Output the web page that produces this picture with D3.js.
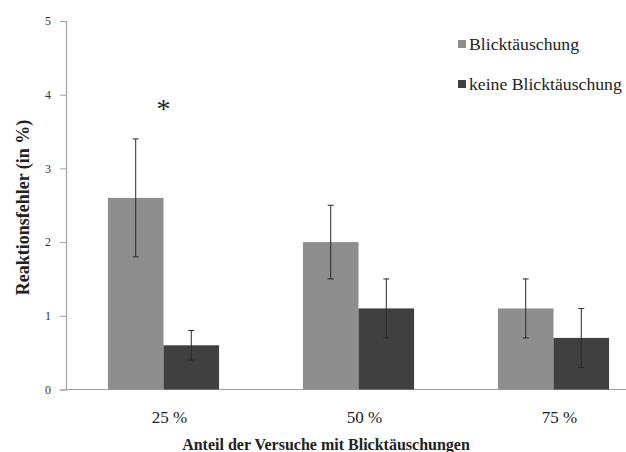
<!DOCTYPE html>
<html>
<head>
<meta charset="utf-8">
<script src="https://cdn.jsdelivr.net/npm/d3@7"></script>
</head>
<body style="margin:0;background:#fff">
<svg id="chart" width="626" height="452" style="display:block"></svg>
<script>
// Reaktionsfehler je Anteil der Blicktäuschungs-Versuche
const categories = ["25 %", "50 %", "75 %"];
const seriesNames = ["Blicktäuschung", "keine Blicktäuschung"];
const illusionValues = [2.6, 2.0, 1.1];
const illusionLow = [1.8, 1.5, 0.7];
const illusionHigh = [3.4, 2.5, 1.5];
const noIllusionValues = [0.6, 1.1, 0.7];
const noIllusionLow = [0.4, 0.7, 0.3];
const noIllusionHigh = [0.8, 1.5, 1.1];
const yTicks = [0, 1, 2, 3, 4, 5];
const significant = [true, false, false];

const colors = ["#8e8e8e", "#404040"];
const serif = '"Liberation Serif"';

const rows = categories.map((c, i) => ({
  cat: c,
  bars: [
    { s: 0, v: illusionValues[i], lo: illusionLow[i], hi: illusionHigh[i] },
    { s: 1, v: noIllusionValues[i], lo: noIllusionLow[i], hi: noIllusionHigh[i] }
  ]
}));

const svg = d3.select("#chart");
const x0 = 66, y0 = 389.5, yTop = 21;

const x = d3.scaleBand().domain(categories).range([x0, 651])
  .paddingInner(0.43).paddingOuter(0.215);
const xs = d3.scaleBand().domain([0, 1]).range([0, x.bandwidth()]);
const y = d3.scaleLinear().domain([0, 5]).range([y0, yTop]);

// x axis baseline
svg.append("line")
  .attr("x1", x0).attr("x2", 626)
  .attr("y1", y0).attr("y2", y0)
  .attr("stroke", "#a0a0a0").attr("stroke-width", 1.2);

// y axis
const yAxis = svg.append("g")
  .attr("transform", `translate(${x0},0)`)
  .call(d3.axisLeft(y).tickValues(yTicks).tickSize(6).tickPadding(9).tickFormat(d3.format("d")));
yAxis.select(".domain").attr("stroke", "#a0a0a0").attr("stroke-width", 1.2);
yAxis.selectAll(".tick line").attr("stroke", "#a0a0a0");
yAxis.selectAll(".tick text")
  .style("font-family", serif)
  .style("font-size", "12px").attr("fill", "#333");

// bars
const groups = svg.selectAll("g.grp").data(rows).enter().append("g")
  .attr("class", "grp")
  .attr("transform", d => `translate(${x(d.cat)},0)`);

groups.selectAll("rect").data(d => d.bars).enter().append("rect")
  .attr("x", d => xs(d.s))
  .attr("width", xs.bandwidth())
  .attr("y", d => y(d.v))
  .attr("height", d => y(0) - y(d.v))
  .attr("fill", d => colors[d.s]);

// error bars
const err = groups.selectAll("g.err").data(d => d.bars).enter().append("g")
  .attr("class", "err")
  .attr("stroke", "#2a2a2a").attr("stroke-width", 1);
err.append("line")
  .attr("x1", d => xs(d.s) + xs.bandwidth() / 2)
  .attr("x2", d => xs(d.s) + xs.bandwidth() / 2)
  .attr("y1", d => y(d.lo)).attr("y2", d => y(d.hi));
["lo", "hi"].forEach(k => {
  err.append("line")
    .attr("x1", d => xs(d.s) + xs.bandwidth() / 2 - 3)
    .attr("x2", d => xs(d.s) + xs.bandwidth() / 2 + 3)
    .attr("y1", d => y(d[k])).attr("y2", d => y(d[k]));
});

// significance marker
svg.selectAll("text.sig").data(rows.filter((d, i) => significant[i])).enter()
  .append("text").attr("class", "sig")
  .attr("x", d => x(d.cat) + x.bandwidth() / 2)
  .attr("y", 118)
  .attr("text-anchor", "middle")
  .style("font-family", serif).style("font-size", "28px").attr("fill", "#222")
  .text("*");

// category labels
svg.selectAll("text.cat").data(categories).enter().append("text")
  .attr("class", "cat")
  .attr("x", d => x(d) + x.bandwidth() / 2 + 6)
  .attr("y", 423)
  .attr("text-anchor", "middle")
  .style("font-family", serif).style("font-size", "17px").attr("fill", "#222")
  .text(d => d);

// axis titles
svg.append("text")
  .attr("x", 326).attr("y", 450)
  .attr("text-anchor", "middle")
  .style("font-family", serif).style("font-size", "16px").style("font-weight", "bold").attr("fill", "#222")
  .text("Anteil der Versuche mit Blicktäuschungen");

svg.append("text")
  .attr("transform", "translate(29,207.5) rotate(-90)")
  .attr("text-anchor", "middle")
  .style("font-family", serif).style("font-size", "18px").style("font-weight", "bold").attr("fill", "#222")
  .text("Reaktionsfehler (in %)");

// legend
const legend = svg.selectAll("g.leg").data(seriesNames).enter().append("g")
  .attr("class", "leg")
  .attr("transform", (d, i) => `translate(458,${44 + i * 40})`);
legend.append("rect")
  .attr("x", 0).attr("y", -4).attr("width", 8).attr("height", 8)
  .attr("fill", (d, i) => colors[i]);
legend.append("text")
  .attr("x", 11).attr("y", 6)
  .style("font-family", serif).style("font-size", "17.7px").attr("fill", "#222")
  .text(d => d);
</script>
</body>
</html>
